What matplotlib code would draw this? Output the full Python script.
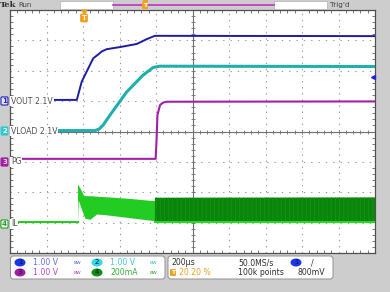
import numpy as np
import matplotlib.pyplot as plt
from matplotlib.patches import FancyBboxPatch, Rectangle, Ellipse

# scope settings: 200 us/div, 10 div, trigger at 20.20 %
t_div = 200.0
t_left = -0.202 * 10 * t_div

# channel scale (units/div) and marker position (div)
ch_scale = {1: 1.0, 2: 1.0, 3: 1.0, 4: 200.0}
ch_pos = {1: 1.0, 2: 0.0, 3: -1.0, 4: -3.0}

# ch1 VOUT (V)
vout_t = [-404, -38, -11, 52, 78, 100, 126, 199, 290, 345, 390, 1596]
vout_v = [0.04, 0.04, 0.64, 1.41, 1.53, 1.64, 1.71, 1.78, 1.88, 2.04, 2.15, 2.14]

# ch2 VLOAD (V)
vload_t = [-404, 62, 84, 106, 144, 235, 326, 381, 418, 1596]
vload_v = [0.03, 0.03, 0.08, 0.21, 0.54, 1.30, 1.86, 2.11, 2.15, 2.14]

# ch3 PG (V)
pg_t = [-404, 394, 399, 404, 418, 434, 455, 1596]
pg_v = [0.10, 0.10, 0.72, 1.54, 1.87, 1.95, 1.98, 1.99]

# ch4 IL (mA): baseline, soft-start switching band, steady switching band
il_base_t = [-404, -34]
il_base = [3, 3]
il_ss_t = [-34, -30, -20, -11, -2, 7, 34, 52, 71, 126, 235, 381, 390]
il_ss_hi = [255, 247, 226, 205, 182, 178, 177, 176, 174, 170, 161, 145, 145]
il_ss_lo = [3, 149, 115, 84, 55, 29, 22, 39, 57, 51, 35, 14, 8]
il_run_t = [390, 1596]
il_run_hi = [164, 166]
il_run_lo = [9, 9]
il_run_base = [4, 4]


def scr(ch, v):
    return np.array(v) / ch_scale[ch] + ch_pos[ch]


fig = plt.figure(figsize=(3.9, 2.92), dpi=100, facecolor='#cdcdcd')

# graticule
ax = fig.add_axes([10 / 390, 39 / 292, 365 / 390, 243 / 292], zorder=1)
ax.set_facecolor('white')
ax.set_xlim(t_left, t_left + 10 * t_div)
ax.set_ylim(-4, 4)
ax.set_xticks(np.arange(t_left, t_left + 10 * t_div + 1, t_div))
ax.set_yticks(np.arange(-4, 5, 1))
ax.set_xticks(np.arange(t_left, t_left + 10 * t_div + 1, t_div / 5), minor=True)
ax.set_yticks(np.arange(-4, 4.01, 0.2), minor=True)
ax.set_xticklabels([])
ax.set_yticklabels([])
ax.tick_params(which='major', length=0)
ax.tick_params(which='minor', direction='in', length=2.5, width=0.6,
               color='#606060', top=True, right=True)
ax.xaxis.grid(True, color='#9a9a9a', lw=0.8, linestyle=(0, (1.2, 4.3)))
ax.yaxis.grid(True, color='#9a9a9a', lw=0.8, linestyle=(0, (1.2, 5.4)))
ax.set_axisbelow(True)
for s in ax.spines.values():
    s.set_color('#505050')
    s.set_linewidth(0.9)

t_mid = t_left + 5 * t_div
ax.axhline(0, color='#707070', lw=0.8, zorder=1)
ax.axvline(t_mid, color='#707070', lw=0.8, zorder=1)
mx = np.arange(t_left, t_left + 10 * t_div + 1, t_div / 5)
my = np.arange(-4, 4.01, 0.2)
ax.plot(mx, np.zeros_like(mx), ls='none', marker='|', ms=3.5, mew=0.6, color='#707070', zorder=1)
ax.plot(np.full_like(my, t_mid), my, ls='none', marker='_', ms=3.5, mew=0.6, color='#707070', zorder=1)

# traces
plt.rcParams['hatch.linewidth'] = 0.6
ax.fill_between(il_ss_t, scr(4, il_ss_lo), scr(4, il_ss_hi), color='#22cc22', lw=0, zorder=3)
ax.fill_between(il_run_t, scr(4, il_run_lo), scr(4, il_run_hi), facecolor='#0a850a',
                edgecolor='#139313', hatch='||||', lw=0, zorder=3)
ax.plot(il_base_t, scr(4, il_base), color='#22cc22', lw=1.5, zorder=4)
ax.plot(il_run_t, scr(4, il_run_base), color='#22dd22', lw=1.5, zorder=4)
ax.plot(pg_t, scr(3, pg_v), color='#a31fa8', lw=1.5, zorder=4)
ax.plot(vload_t, scr(2, vload_v), color='#21aeae', lw=2.2, zorder=4)
ax.plot(vout_t, scr(1, vout_v), color='#1c1ca8', lw=1.4, zorder=5)

# overlay in pixel coordinates
ov = fig.add_axes([0, 0, 1, 1], zorder=2)
ov.set_xlim(0, 390)
ov.set_ylim(292, 0)
ov.axis('off')
ov.patch.set_visible(False)

fs = 5.6
# top bar
ov.text(0.3, 5, 'Tek', fontsize=6.0, fontweight='bold', family='DejaVu Serif', va='center', color='#303030')
ov.text(18.5, 5, 'Run', fontsize=5.0, va='center', color='#404040')
ov.add_patch(Rectangle((60, 0.8), 53, 8.4, facecolor='white', edgecolor='#b0b0b0', lw=0.5))
ov.add_patch(Rectangle((274, 0.8), 53, 8.4, facecolor='white', edgecolor='#b0b0b0', lw=0.5))
ov.plot([113, 274], [4.5, 4.5], color='#c030c0', lw=1.2)
ov.text(145, 5.5, 'T', fontsize=4.5, color='white', ha='center', va='center', fontweight='bold',
        bbox=dict(boxstyle='round,pad=0.15', fc='#f0a020', ec='none'))
ov.plot([145], [1.5], marker='v', ms=3, color='#f0a020')
ov.text(330, 5, "Trig'd", fontsize=5.2, va='center', color='#404040')

# trigger position marker
ov.plot([84], [12], marker='v', ms=3.5, color='#f0a020')
ov.text(84, 18, 'T', fontsize=5, color='white', ha='center', va='center', fontweight='bold',
        bbox=dict(boxstyle='round,pad=0.2', fc='#f0a020', ec='none'))
# trigger level marker
ov.plot([372.5], [77], marker='<', ms=2.8, color='#2020e0')

# channel labels
labels = [('1', 'VOUT 2.1V', 101, '#e8e8ff', '#2020c0', '#2020c0'),
          ('2', 'VLOAD 2.1V', 131, '#30c8d0', '#30c8d0', 'white'),
          ('3', 'PG', 162, '#a020a0', '#a020a0', '#f0d0f0'),
          ('4', 'IL', 224, 'white', '#20a020', '#20a020')]
for num, name, y, fc, ec, tc in labels:
    ov.text(4.5, y, num, fontsize=5, ha='center', va='center', color=tc, fontweight='bold',
            bbox=dict(boxstyle='round,pad=0.15', fc=fc, ec=ec, lw=0.8))
    ov.text(11, y, name, fontsize=fs, ha='left', va='center', color='#505050',
            bbox=dict(boxstyle='square,pad=0.12', fc='white', ec='none'))

# bottom status boxes
ov.add_patch(FancyBboxPatch((10.5, 256), 154.5, 23, boxstyle='round,pad=0,rounding_size=3',
                            fc='white', ec='#909090', lw=0.7))
ov.add_patch(FancyBboxPatch((168, 256), 165, 23, boxstyle='round,pad=0,rounding_size=3',
                            fc='white', ec='#909090', lw=0.7))

chans = [('1', 20, 262.5, '#1838e8', '#6a6ae8', '1.00 V'),
         ('2', 97, 262.5, '#30d8e8', '#40c8d8', '1.00 V'),
         ('3', 20, 272.5, '#a020a0', '#b848c8', '1.00 V'),
         ('4', 97, 272.5, '#109010', '#38b038', '200mA')]
for num, x, y, cc, tc, txt in chans:
    ov.add_patch(Ellipse((x, y), 11, 8, fc=cc, ec='none'))
    ov.text(x, y, num, fontsize=5, ha='center', va='center', color='#101040')
    ov.text(x + 13, y, txt, fontsize=fs, ha='left', va='center', color=tc)
    ov.text(x + 53, y, 'ʙᴡ', fontsize=4, ha='left', va='center', color=tc)

ov.text(171, 262.5, '200µs', fontsize=fs, va='center', color='#303030')
ov.text(238, 262.5, '50.0MS/s', fontsize=fs, va='center', color='#303030')
ov.add_patch(Ellipse((296, 262.5), 11, 8, fc='#1838e8', ec='none'))
ov.text(296, 262.5, '1', fontsize=5, ha='center', va='center', color='#101040')
ov.text(311, 262.5, '/', fontsize=fs, va='center', color='#303030')
ov.text(173, 272.5, 'T', fontsize=4.5, color='white', ha='center', va='center', fontweight='bold',
        bbox=dict(boxstyle='round,pad=0.15', fc='#f0a020', ec='none'))
ov.text(179, 272.5, '20.20 %', fontsize=fs, va='center', color='#f0a020')
ov.text(238, 272.5, '100k points', fontsize=fs, va='center', color='#303030')
ov.text(297, 272.5, '800mV', fontsize=fs, va='center', color='#303030')

fig.savefig('out.png', dpi=100, facecolor=fig.get_facecolor())
